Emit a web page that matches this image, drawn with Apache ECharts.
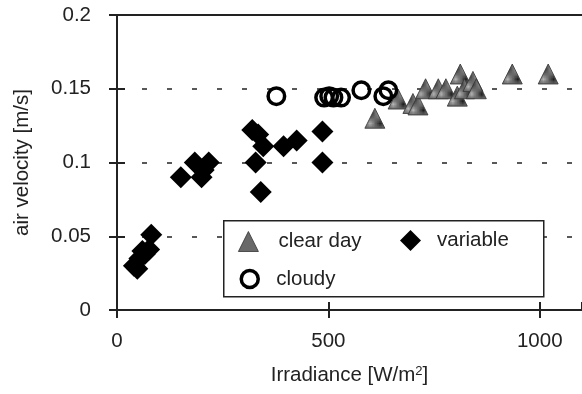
<!DOCTYPE html>
<html>
<head>
<meta charset="utf-8">
<script src="https://cdn.jsdelivr.net/npm/echarts@6/dist/echarts.min.js"></script>
<style>
  html, body { margin: 0; padding: 0; background: #fff; }
  #chart { width: 582px; height: 394px; }
</style>
</head>
<body>
<div id="chart"></div>
<script>
// Irradiance [W/m2] and air velocity [m/s] for each sky condition
const clearIrr = [610, 665, 700, 712, 730, 760, 778, 805, 812, 822, 842, 850, 935, 1020];
const clearVel = [0.130, 0.143, 0.140, 0.139, 0.150, 0.150, 0.150, 0.145, 0.160, 0.150, 0.155, 0.150, 0.160, 0.160];

const cloudyIrr = [377, 490, 502, 512, 530, 578, 630, 642];
const cloudyVel = [0.145, 0.144, 0.145, 0.144, 0.144, 0.149, 0.145, 0.149];

const variableIrr = [40, 48, 53, 60, 66, 76, 81, 151, 184, 200, 205, 217, 320, 334, 346, 328, 340, 394, 425, 486, 486];
const variableVel = [0.030, 0.028, 0.035, 0.040, 0.038, 0.041, 0.051, 0.090, 0.100, 0.090, 0.095, 0.100, 0.122, 0.119, 0.111, 0.100, 0.080, 0.111, 0.115, 0.121, 0.100];

const xTicks = [0, 500, 1000];
const yTicks = ['0', '0.05', '0.1', '0.15', '0.2'];

const FONT = 'Liberation Sans, Arial, sans-serif';
const FS = 20.5;
const INK = '#222';

function pairs(xs, ys) { return xs.map((x, i) => [x, ys[i]]); }

// dithered grey fill used by the clear-day triangles
const tile = document.createElement('canvas');
tile.width = 2; tile.height = 2;
const tc = tile.getContext('2d');
tc.fillStyle = '#b4b4b4'; tc.fillRect(0, 0, 2, 2);
tc.fillStyle = '#1e1e1e'; tc.fillRect(0, 0, 1, 1); tc.fillRect(1, 1, 1, 1);
const dither = { image: tile, repeat: 'repeat' };

const clearStyle = { color: dither, borderColor: '#333', borderWidth: 0.8, opacity: 1 };
const cloudyStyle = { color: 'rgba(0,0,0,0)', borderColor: '#000', borderWidth: 3.5, opacity: 1 };
const variableStyle = { color: '#000', opacity: 1 };

const legendText = { color: INK, fontSize: FS, fontFamily: FONT };

const chart = echarts.init(document.getElementById('chart'), null, { renderer: 'canvas' });

chart.setOption({
  animation: false,
  backgroundColor: '#fff',
  grid: { left: 117, top: 15, bottom: 84, right: -6, containLabel: false },
  xAxis: [
    {
      type: 'value', min: 0, max: 1100, interval: 500, position: 'bottom',
      axisLine: { onZero: false, lineStyle: { color: INK, width: 2 } },
      axisTick: { show: true, inside: false, length: 8, lineStyle: { color: INK, width: 2 } },
      axisLabel: {
        margin: 21, color: INK, fontSize: FS, fontFamily: FONT, showMaxLabel: false,
        formatter: v => (xTicks.indexOf(v) >= 0 ? String(v) : '')
      },
      splitLine: { show: false },
      name: 'Irradiance [W/m{sup|2}]', nameLocation: 'middle', nameGap: 55,
      nameTextStyle: {
        color: INK, fontSize: FS, fontFamily: FONT,
        rich: { sup: { fontSize: 13, fontFamily: FONT, color: INK, verticalAlign: 'top', padding: [0, 0, 8, 0] } }
      }
    },
    {
      type: 'value', min: 0, max: 1100, interval: 500, position: 'bottom',
      axisLine: { show: false, onZero: false },
      axisTick: { show: true, inside: true, length: 8, lineStyle: { color: INK, width: 2 } },
      axisLabel: { show: false }, splitLine: { show: false }
    },
    {
      type: 'value', min: 0, max: 1100, position: 'top',
      axisLine: { show: true, onZero: false, lineStyle: { color: INK, width: 2 } },
      axisTick: { show: false }, axisLabel: { show: false }, splitLine: { show: false }
    }
  ],
  yAxis: [
    {
      type: 'value', min: 0, max: 0.2, interval: 0.05, position: 'left',
      axisLine: { show: true, onZero: false, lineStyle: { color: INK, width: 2 } },
      axisTick: { show: true, inside: false, length: 8, lineStyle: { color: INK, width: 2 } },
      axisLabel: {
        margin: 26, color: INK, fontSize: FS, fontFamily: FONT,
        formatter: (v, i) => yTicks[i]
      },
      splitLine: { show: true, lineStyle: { color: INK, width: 1.5, type: [5, 20] } },
      name: 'air velocity [m/s]', nameLocation: 'middle', nameGap: 84, nameRotate: 90,
      nameTextStyle: { color: INK, fontSize: FS, fontFamily: FONT }
    },
    {
      type: 'value', min: 0, max: 0.2, interval: 0.05, position: 'left',
      axisLine: { show: false, onZero: false },
      axisTick: { show: true, inside: true, length: 8, lineStyle: { color: INK, width: 2 } },
      axisLabel: { show: false }, splitLine: { show: false }
    }
  ],
  legend: [
    {
      data: [{ name: 'clear day', icon: 'triangle', itemStyle: clearStyle }],
      left: 238, top: 231, padding: 0, itemWidth: 20, itemHeight: 20, selectedMode: false,
      textStyle: Object.assign({ padding: [0, 0, 0, 15] }, legendText)
    },
    {
      data: [{ name: 'variable', icon: 'diamond', itemStyle: variableStyle }],
      left: 400, top: 230, padding: 0, itemWidth: 21, itemHeight: 21, selectedMode: false,
      textStyle: Object.assign({ padding: [0, 0, 0, 11] }, legendText)
    },
    {
      data: [{ name: 'cloudy', icon: 'circle', itemStyle: cloudyStyle }],
      left: 239.5, top: 268.5, padding: 0, itemWidth: 17, itemHeight: 17, selectedMode: false,
      textStyle: Object.assign({ padding: [0, 0, 0, 13] }, legendText)
    }
  ],
  graphic: [
    {
      type: 'rect', left: 223, top: 220, silent: true, z: 3,
      shape: { width: 320, height: 76 },
      style: { fill: '#fff', stroke: INK, lineWidth: 1.5 }
    }
  ],
  series: [
    {
      name: 'clear day', type: 'scatter', symbol: 'triangle', symbolSize: 20,
      xAxisIndex: 0, yAxisIndex: 0, z: 2,
      data: pairs(clearIrr, clearVel), itemStyle: clearStyle
    },
    {
      name: 'cloudy', type: 'scatter', symbol: 'circle', symbolSize: 16.5,
      xAxisIndex: 0, yAxisIndex: 0, z: 3,
      data: pairs(cloudyIrr, cloudyVel), itemStyle: cloudyStyle
    },
    {
      name: 'variable', type: 'scatter', symbol: 'diamond', symbolSize: 22,
      xAxisIndex: 0, yAxisIndex: 0, z: 4,
      data: pairs(variableIrr, variableVel), itemStyle: variableStyle
    }
  ]
});
</script>
</body>
</html>
